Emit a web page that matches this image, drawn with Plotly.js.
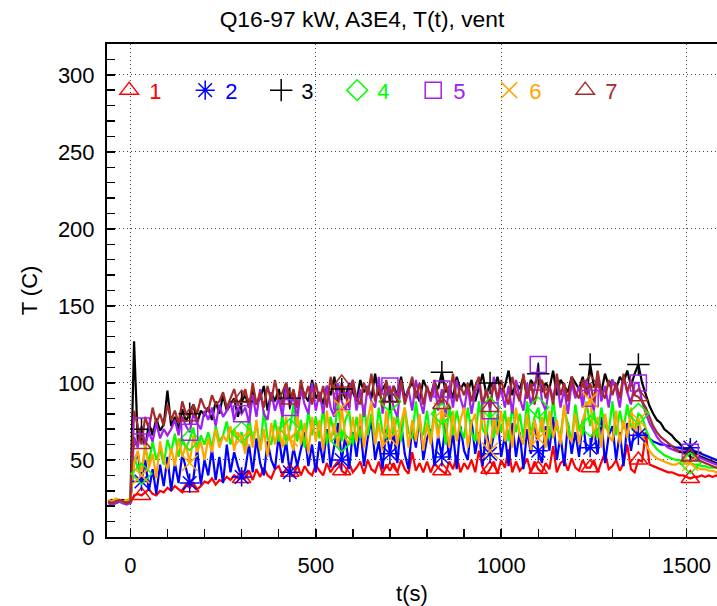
<!DOCTYPE html>
<html>
<head>
<meta charset="utf-8">
<script src="https://cdn.plot.ly/plotly-3.0.1.min.js"></script>
<style>html,body{margin:0;padding:0;background:#fff;overflow:hidden}#chart{width:717px;height:606px}</style>
</head>
<body>
<div id="chart"></div>
<script>
const t = [-60,-50,-40,-30,-20,-10,0,
10,20,30,40,50,60,70,80,90,100,
110,120,130,140,150,160,170,180,190,200,
210,220,230,240,250,260,270,280,290,300,
310,320,330,340,350,360,370,380,390,400,
410,420,430,440,450,460,470,480,490,500,
510,520,530,540,550,560,570,580,590,600,
610,620,630,640,650,660,670,680,690,700,
710,720,730,740,750,760,770,780,790,800,
810,820,830,840,850,860,870,880,890,900,
910,920,930,940,950,960,970,980,990,1000,
1010,1020,1030,1040,1050,1060,1070,1080,1090,1100,
1110,1120,1130,1140,1150,1160,1170,1180,1190,1200,
1210,1220,1230,1240,1250,1260,1270,1280,1290,1300,
1310,1320,1330,1340,1350,1360,1370,1380,1390,1400,
1410,1420,1430,1440,1450,1460,1470,1480,1490,1500,
1510,1520,1530,1540,1550,1560,1570,1580,1590,1600];

const s1 = [22,23,22,23,22,23,22,
27,28,27,29,31,28,27,30,29,32,
30,33,31,29,34,32,35,31,33,36,
35,38,34,37,36,39,37,40,38,38,
38,43,37,44,39,45,40,38,44,46,
40,44,42,39,47,40,46,42,40,47,
43,40,48,42,46,49,43,41,48,42,
45,49,41,50,44,42,49,41,47,43,
48,42,50,44,41,55,43,48,42,49,
42,48,45,43,41,49,44,53,42,48,
44,50,42,56,45,41,44,49,41,50,
45,57,42,49,43,46,51,42,49,44,
42,48,44,59,42,48,50,43,51,45,
43,50,45,45,50,42,49,55,44,46,
50,43,48,60,44,42,50,49,68,47,
46,45,44,43,42,42,41,40,40,39,
38,39,39,40,39,40,39,40,39,39];

const s2 = [23,22,23,24,23,22,23,
48,55,36,50,30,44,28,47,33,52,
30,48,35,54,44,35,38,57,34,50,
40,57,37,52,35,60,42,55,46,39,
44,60,42,64,48,40,62,50,44,66,
48,62,42,58,46,56,68,46,60,42,
62,48,70,45,60,74,50,66,44,68,
52,72,46,64,76,50,62,44,70,54,
68,48,74,54,44,72,58,78,50,64,
70,46,66,52,74,50,68,44,72,56,
50,76,54,68,46,70,54,66,78,52,
66,46,74,52,68,44,70,54,76,56,
48,72,56,78,50,66,46,74,54,68,
52,76,56,58,70,54,78,48,66,72,
50,68,46,74,56,70,66,68,66,64,
62,61,60,60,59,59,58,58,57,57,
58,56,55,54,53,52,51,50,49,48];

const s3 = [23,24,22,23,24,23,23,
127,62,70,58,74,66,77,69,73,95,
72,78,70,83,75,80,86,74,82,79,
84,76,88,80,92,82,86,90,78,88,
92,84,96,86,90,98,82,94,88,96,
86,100,90,94,84,98,92,88,102,90,
94,86,98,92,104,88,96,90,100,94,
88,102,94,98,90,106,92,96,100,88,
98,92,104,90,96,100,94,88,102,96,
92,100,96,107,94,98,90,104,96,100,
94,102,88,98,106,92,100,96,104,94,
98,108,92,100,96,104,90,102,98,106,
94,100,96,108,92,102,98,94,104,100,
96,104,92,112,98,100,94,106,98,102,
96,104,100,108,98,106,112,100,92,85,
80,76,74,70,68,66,63,61,58,57,
55,54,53,52,51,50,49,48,48,47];

const s4 = [22,23,24,23,22,24,23,
52,45,41,58,48,62,50,57,47,63,
55,67,52,64,58,63,71,56,66,60,
68,58,72,62,66,75,60,70,64,68,
58,78,62,74,56,82,64,60,76,62,
80,60,70,86,62,76,58,82,66,78,
64,84,60,78,66,88,62,76,82,60,
78,64,86,66,80,60,84,68,64,88,
66,80,62,84,68,64,88,70,66,82,
62,84,68,80,60,86,66,82,70,64,
84,68,62,88,70,66,84,64,80,68,
82,62,86,68,80,64,88,66,78,84,
68,82,64,90,70,66,84,72,62,86,
70,66,88,72,82,64,84,72,68,88,
66,82,70,86,72,68,80,78,70,64,
60,57,55,53,52,51,50,50,49,48,
48,47,47,46,46,45,45,45,44,44];

const s5 = [22,21,22,23,22,21,22,
65,58,72,60,68,62,74,64,70,66,
70,76,66,78,72,68,80,74,70,82,
76,84,72,86,78,82,88,76,84,80,
84,74,92,78,96,80,76,94,82,90,
78,98,84,92,76,96,86,80,100,82,
94,80,98,84,78,100,88,82,96,102,
82,96,78,98,88,84,104,80,94,98,
84,78,100,88,96,82,102,90,80,98,
88,100,82,96,78,98,84,102,90,82,
98,80,94,100,84,96,82,104,88,96,
84,98,80,102,90,82,100,86,96,112,
88,82,98,90,102,84,96,80,100,90,
98,84,102,90,82,106,88,98,84,102,
96,84,104,94,86,100,100,88,80,74,
69,65,62,60,58,57,56,55,55,56,
55,53,52,51,50,49,48,47,47,46];

const s6 = [24,23,25,24,23,24,25,
48,56,40,60,45,54,38,62,50,44,
58,46,64,52,60,48,66,55,62,50,
64,55,70,58,66,62,72,56,68,64,
54,72,58,76,56,70,52,74,60,72,
58,78,64,56,80,60,74,54,78,62,
76,56,82,62,74,58,84,64,60,78,
62,80,58,76,88,60,74,56,82,64,
78,60,74,84,58,76,62,80,56,74,
60,80,64,82,74,58,82,62,76,84,
58,74,80,60,86,64,56,78,66,82,
62,78,58,84,66,60,80,56,76,64,
78,58,82,64,76,60,86,66,62,80,
60,76,84,89,64,78,58,80,66,62,
82,60,76,64,84,66,76,66,60,56,
53,51,50,49,48,47,47,48,47,48,
48,46,45,44,44,43,43,42,42,42];

const s7 = [23,22,23,24,23,22,23,
82,72,60,78,70,84,74,80,72,86,
76,82,74,88,80,78,86,80,90,84,
82,92,86,88,94,84,90,96,86,90,
96,84,100,86,94,84,98,88,102,89,
94,100,89,96,84,102,90,98,86,100,
88,98,84,104,90,86,100,92,84,102,
90,86,100,92,106,88,98,84,102,90,
98,88,102,86,96,104,90,100,86,98,
90,102,92,86,100,90,106,88,98,92,
100,88,98,104,86,96,84,100,90,102,
92,86,104,94,88,106,90,100,86,98,
102,90,98,86,106,92,100,88,104,94,
90,102,92,100,88,108,94,90,102,92,
100,90,106,94,102,92,91,88,84,78,
72,68,65,63,61,59,57,56,55,54,
52,51,50,49,48,47,46,45,45,44];

const markerT = [30,160,300,430,570,700,840,970,1100,1240,1370,1510];
const seriesNames = ['1','2','3','4','5','6','7'];
const seriesData = [s1,s2,s3,s4,s5,s6,s7];
const colors = ['#ff0000','#0000ff','#000000','#00ff00','#a020f0','#ffa500','#a52a2a'];
const symbols = ['triangle-up-open','asterisk-open','cross-thin-open','diamond-open','square-open','x-thin-open','triangle-up-open'];

const traces = [];
seriesData.forEach((d,k)=>{
  traces.push({x:t, y:d, type:'scatter', mode:'lines', line:{color:colors[k], width:2.2}, showlegend:false, hoverinfo:'skip'});
});
seriesData.forEach((d,k)=>{
  const my = markerT.map(m => d[t.indexOf(m)]);
  traces.push({x:markerT, y:my, type:'scatter', mode:'markers',
    name:'<span style="color:'+colors[k]+'">'+seriesNames[k]+'</span>',
    marker:{symbol:symbols[k], color:colors[k], size:16, line:{width:1.5, color:colors[k]}},
    showlegend:true, hoverinfo:'skip'});
});

const F = 'Liberation Sans, Arial, sans-serif';
const layout = {
  width:717, height:606,
  margin:{l:107, r:0, t:44, b:69},
  paper_bgcolor:'#fff', plot_bgcolor:'#fff',
  font:{family:F, size:22, color:'#000'},
  title:{text:'Q16-97 kW, A3E4, T(t), vent', x:0.418, xref:'paper', xanchor:'center', y:0.968, yanchor:'middle', font:{family:F, size:22.8, color:'#000'}},
  showlegend:true,
  legend:{orientation:'h', x:0.0036, xanchor:'left', y:0.906, yanchor:'middle', bgcolor:'rgba(0,0,0,0)',
    font:{family:F, size:22}, entrywidth:31, entrywidthmode:'pixels', itemwidth:30, tracegroupgap:0},
  xaxis:{range:[-63,1582], tick0:0, dtick:500, ticks:'inside', ticklen:8, tickwidth:1.5, tickcolor:'#000',
    minor:{dtick:100, ticks:'inside', ticklen:8, tickwidth:1.5, tickcolor:'#000', showgrid:false},
    showgrid:true, gridcolor:'#444', gridwidth:1, griddash:'1px,3px',
    showline:true, linecolor:'#000', linewidth:2, mirror:true, zeroline:false,
    tickfont:{family:F, size:22}, ticklabelstandoff:8,
    title:{text:'t(s)', font:{family:F, size:22}, standoff:10}},
  yaxis:{range:[0,320], tick0:0, dtick:50, ticks:'inside', ticklen:8, tickwidth:1.5, tickcolor:'#000',
    minor:{dtick:10, ticks:'inside', ticklen:8, tickwidth:1.5, tickcolor:'#000', showgrid:false},
    showgrid:true, gridcolor:'#444', gridwidth:1, griddash:'1px,3px',
    showline:true, linecolor:'#000', linewidth:2, mirror:false, zeroline:false,
    tickfont:{family:F, size:22}, ticklabelstandoff:6,
    title:{text:'T (C)', font:{family:F, size:22}, standoff:14}}
};
Plotly.newPlot('chart', traces, layout, {staticPlot:true, displayModeBar:false});
</script>
</body>
</html>
